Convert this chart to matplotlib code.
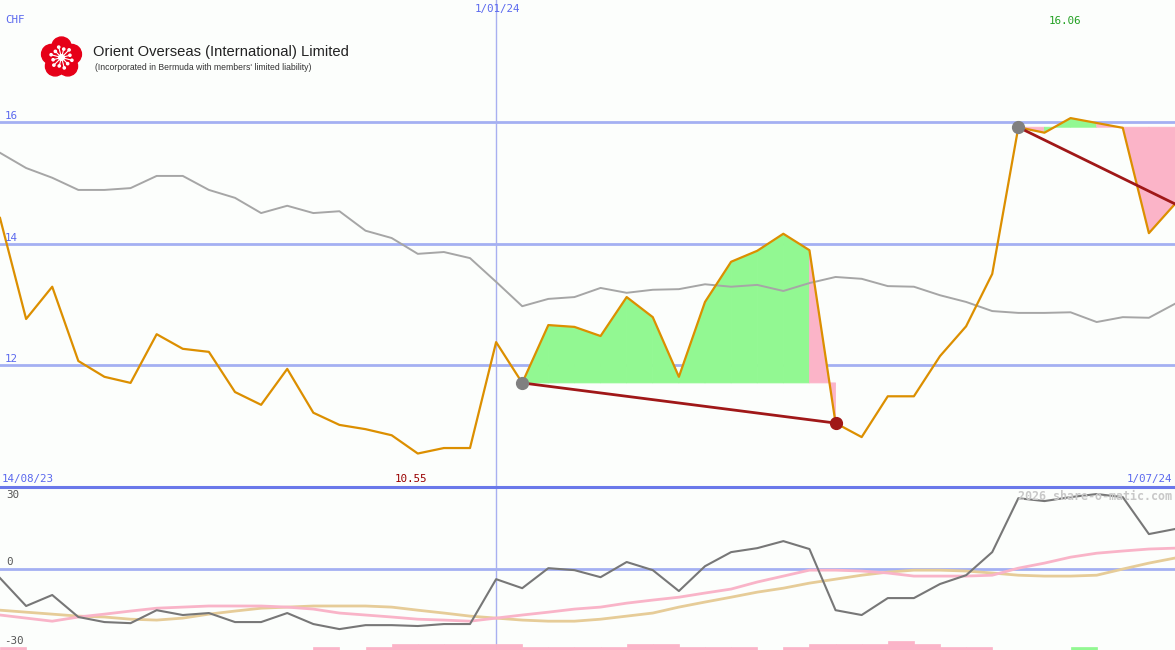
import numpy as np
import matplotlib
matplotlib.use("Agg")
import matplotlib.pyplot as plt
from matplotlib.patches import Circle
from matplotlib.lines import Line2D

W, H = 1175, 650

# weekly closes (CHF), 14/08/23 .. 1/07/24
price = [14.42, 12.76, 13.29, 12.07, 11.81, 11.71, 12.51, 12.27, 12.22, 11.56,
         11.35, 11.94, 11.22, 11.02, 10.95, 10.85, 10.55, 10.64, 10.64, 12.38,
         11.71, 12.66, 12.63, 12.48, 13.12, 12.79, 11.81, 13.04, 13.70, 13.88,
         14.16, 13.89, 11.05, 10.82, 11.49, 11.49, 12.15, 12.64, 13.50, 15.91,
         15.82, 16.06, 15.98, 15.90, 14.17, 14.65]
# grey comparison line
avg = [15.49, 15.24, 15.08, 14.88, 14.88, 14.91, 15.11, 15.11, 14.88, 14.75,
       14.50, 14.62, 14.50, 14.53, 14.21, 14.09, 13.83, 13.86, 13.76, 13.37,
       12.97, 13.09, 13.12, 13.27, 13.19, 13.24, 13.25, 13.33, 13.29, 13.32,
       13.22, 13.35, 13.45, 13.42, 13.30, 13.29, 13.15, 13.04, 12.89, 12.86,
       12.86, 12.87, 12.71, 12.79, 12.78, 13.01]

# lower panel
osc = [-4.3, -17.0, -12.0, -22.0, -24.3, -24.8, -18.9, -21.1, -20.2, -24.3,
       -24.3, -20.2, -25.2, -27.5, -25.7, -25.7, -26.1, -25.2, -25.2, -4.8,
       -8.9, 0.2, -0.7, -3.9, 3.0, -0.7, -10.2, 1.1, 7.5, 9.3,
       12.5, 8.9, -18.9, -21.1, -13.4, -13.4, -7.0, -3.0, 7.5, 32.0,
       30.7, 32.5, 33.9, 32.5, 15.7, 18.0]
osc_pink = [-21.1, -22.5, -23.9, -22.0, -20.7, -19.3, -18.0, -17.5, -17.0, -17.0,
            -17.0, -17.5, -18.4, -20.2, -21.1, -22.0, -23.0, -23.4, -23.9, -22.5,
            -21.1, -19.8, -18.4, -17.5, -15.7, -14.3, -13.0, -11.1, -9.3, -6.1,
            -3.4, -0.7, -0.7, -1.1, -2.0, -3.4, -3.4, -3.4, -3.0, 0.2,
            2.5, 5.2, 7.0, 8.0, 8.9, 9.3]
osc_tan = [-18.9, -19.8, -20.7, -21.6, -22.0, -23.0, -23.4, -22.5, -20.7, -19.3,
           -18.0, -17.5, -17.0, -17.0, -17.0, -17.5, -18.9, -20.2, -21.6, -22.5,
           -23.4, -23.9, -23.9, -23.0, -21.6, -20.2, -17.5, -15.2, -13.0, -10.7,
           -8.9, -6.6, -4.8, -3.0, -1.6, -0.7, -0.7, -1.1, -2.0, -3.0,
           -3.4, -3.4, -3.0, -0.2, 2.5, 4.8]
# bar levels per week (negative = pink, positive = green)
bars = [-1, 0, 0, 0, 0, 0, 0, 0, 0, 0, 0, 0, -1, 0, -1, -2, -2, -2, -2, -2,
        -1, -1, -1, -1, -2, -2, -1, -1, -1, 0, -1, -2, -2, -2, -3, -2, -1, -1,
        0, 0, 0, 1, 0, 0, 0]

trends = [(20, 32), (39, 45)]
grid_levels = [12, 14, 16]
mark_week = 19
label_start, label_mid, label_end = "14/08/23", "1/01/24", "1/07/24"
label_hi, label_lo = "16.06", "10.55"

bg = "#fcfefc"
blue = "#5a68ee"
grid_c = "#a4b0f2"
green_f = "#92f892"
pink_f = "#fbb4c8"
mono = "DejaVu Sans Mono"

fig = plt.figure(figsize=(W / 100, H / 100), dpi=100)
fig.patch.set_facecolor(bg)
ax = fig.add_axes([0, 163 / H, 1, 487 / H])
ax2 = fig.add_axes([0, 0, 1, 163 / H])
for a in (ax, ax2):
    a.set_axis_off()
    a.set_xlim(0, len(price) - 1)
ax.set_ylim(10, 18)
ax2.set_ylim(-37, 37.1)

x = np.arange(len(price))

for g in grid_levels:
    ax.axhline(g, color=grid_c, lw=2, zorder=1)
ax2.axhline(0, color=grid_c, lw=2, zorder=1)
ax.axvline(mark_week, color="#a8b0f0", lw=1, zorder=1)
ax2.axvline(mark_week, color="#a8b0f0", lw=1, zorder=1)

# trend fills, one polygon per segment
for s, e in trends:
    base = price[s]
    for i in range(s, e):
        c = green_f if price[i + 1] >= base else pink_f
        ax.fill([i, i, i + 1, i + 1], [base, price[i], price[i + 1], base],
                facecolor=c, edgecolor=c, lw=0.6, zorder=2)

ax.plot(x, avg, color="#a6a6a6", lw=1.4, zorder=3)
ax.plot(x, price, color="#dc8f00", lw=1.6, zorder=4)

for n, (s, e) in enumerate(trends):
    ax.plot([s, e], [price[s], price[e]], color="#a01818", lw=2, zorder=5)
    ax.plot(s, price[s], "o", color="#808080", ms=8.5, zorder=6)
    if n == 0:
        ax.plot(e, price[e], "o", color="#a01818", ms=8.5, zorder=6)

# lower panel
bx = np.arange(len(bars))
bh = [abs(b) * 1.36 for b in bars]
bc = [green_f if b > 0 else pink_f for b in bars]
ax2.bar(bx, bh, width=1, align="edge", bottom=-37, color=bc, edgecolor=bc,
        lw=0.5, zorder=1)
ax2.plot(x, osc_tan, color="#e6cc98", lw=2, zorder=2)
ax2.plot(x, osc_pink, color="#f9b4c8", lw=2, zorder=3)
ax2.plot(x, osc, color="#777777", lw=1.5, zorder=4)

fig.add_artist(Line2D([0, 1], [163 / H, 163 / H], transform=fig.transFigure,
                      color="#6a78ea", lw=2.2))


def txt(px, py, s, **kw):
    fig.text(px / W, 1 - py / H, s, va="center", family=mono, **kw)


txt(5, 20, "CHF", color=blue, fontsize=7.8)
txt(497, 9, label_mid, color=blue, fontsize=7.8, ha="center")
txt(1065, 21, label_hi, color="#22a022", fontsize=7.8, ha="center")
for g, py in zip(grid_levels, [359, 238, 116]):
    txt(5, py, str(g), color=blue, fontsize=7.8)
txt(2, 479, label_start, color=blue, fontsize=7.8)
txt(411, 479, label_lo, color="#990000", fontsize=7.8, ha="center")
txt(1172, 479, label_end, color=blue, fontsize=7.8, ha="right")
txt(1172, 496, "2026 share-o-matic.com", color="#c8c8c8", fontsize=8.4,
    ha="right", fontweight="bold")
txt(6, 495, "30", color="#555555", fontsize=7.8)
txt(6, 562, "0", color="#555555", fontsize=7.8)
txt(4, 641, "-30", color="#555555", fontsize=7.8)

# company logo + name
fig.text(93 / W, 1 - 52 / H, "Orient Overseas (International) Limited",
         family="Liberation Sans", fontsize=10.65, color="#222222", va="center")
fig.text(95 / W, 1 - 68 / H,
         "(Incorporated in Bermuda with members' limited liability)",
         family="Liberation Sans", fontsize=6.2, color="#333333", va="center")

la = fig.add_axes([40 / W, 1 - 79 / H, 43 / W, 43 / H])
la.set_xlim(-21, 21)
la.set_ylim(-21, 21)
la.set_aspect("equal")
la.axis("off")
red = "#e60018"
la.add_patch(Circle((0, 0), 12, color=red))
for k in range(5):
    a = np.deg2rad(90 + 72 * k)
    la.add_patch(Circle((10.5 * np.cos(a), 10.5 * np.sin(a)), 9.5, color=red))
la.add_patch(Circle((0, 0), 2.8, color="white"))
for k in range(12):
    a = np.deg2rad(15 + 30 * k)
    r = 10.5 if k % 2 else 8.5
    la.plot([3 * np.cos(a), r * np.cos(a)], [3 * np.sin(a), r * np.sin(a)],
            color="white", lw=0.8)
    la.add_patch(Circle((r * np.cos(a), r * np.sin(a)), 1.1, color="white"))

fig.savefig("out.png", dpi=100, facecolor=bg)
